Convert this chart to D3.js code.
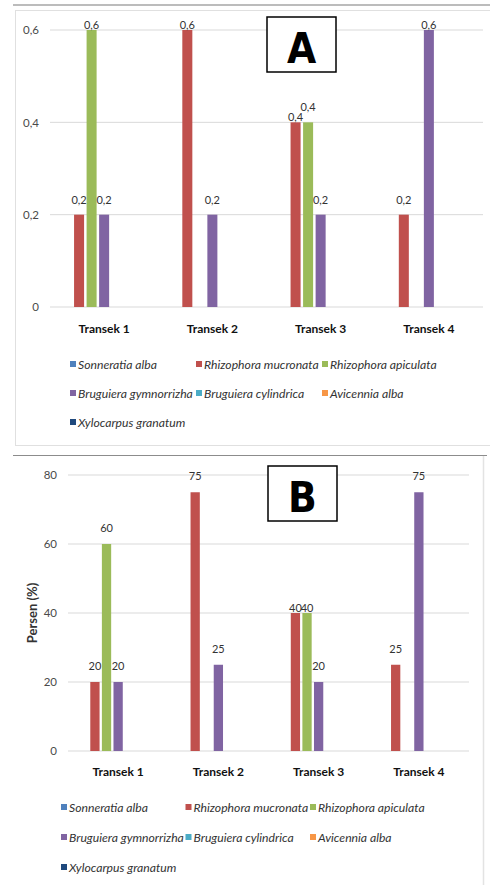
<!DOCTYPE html>
<html>
<head>
<meta charset="utf-8">
<script src="https://cdn.jsdelivr.net/npm/d3@7/dist/d3.min.js"></script>
<style>
  html, body { margin: 0; padding: 0; background: #fff; }
  svg { display: block; font-family: Lato, "Open Sans", "Liberation Sans", sans-serif; }
</style>
</head>
<body>
<svg id="chart" width="490" height="885"></svg>
<script>
// ---------- DATA ----------
const categories = ["Transek 1", "Transek 2", "Transek 3", "Transek 4"];
const species = [
  "Sonneratia alba",
  "Rhizophora mucronata",
  "Rhizophora apiculata",
  "Bruguiera gymnorrizha",
  "Bruguiera cylindrica",
  "Avicennia alba",
  "Xylocarpus granatum"
];
const speciesColors = ["#4F81BD", "#C0504D", "#9BBB59", "#8064A2", "#4BACC6", "#F79646", "#1F497D"];

// Panel A values (per species, per transect)
const valuesA = [
  [0, 0, 0, 0],
  [0.2, 0.6, 0.4, 0.2],
  [0.6, 0, 0.4, 0],
  [0.2, 0.2, 0.2, 0.6],
  [0, 0, 0, 0],
  [0, 0, 0, 0],
  [0, 0, 0, 0]
];
const ticksA = [0, 0.2, 0.4, 0.6];

// Panel B values (percent)
const valuesB = [
  [0, 0, 0, 0],
  [20, 75, 40, 25],
  [60, 0, 40, 0],
  [20, 25, 20, 75],
  [0, 0, 0, 0],
  [0, 0, 0, 0],
  [0, 0, 0, 0]
];
const ticksB = [0, 20, 40, 60, 80];

// ---------- DRAW ----------
const svg = d3.select("#chart");
const fmtComma = v => String(v).replace(".", ",");

function panel(cfg) {
  const g = svg.append("g");
  const y = d3.scaleLinear().domain(cfg.domain).range([cfg.y0, cfg.y1]);
  const x0 = d3.scaleBand().domain(categories).range([cfg.x0, cfg.x1]).paddingInner(0.19).paddingOuter(0.095);
  const x1 = d3.scaleBand().domain(d3.range(species.length)).range([0, x0.bandwidth()]).paddingInner(0.2).paddingOuter(0.1);

  // gridlines
  g.append("g").selectAll("line").data(cfg.ticks).join("line")
    .attr("x1", cfg.x0).attr("x2", cfg.x1)
    .attr("y1", d => y(d)).attr("y2", d => y(d))
    .attr("stroke", "#d9d9d9").attr("stroke-width", 1);

  // y axis labels
  const yAxis = d3.axisLeft(y).tickValues(cfg.ticks).tickSize(0).tickPadding(0).tickFormat(cfg.fmt);
  const ya = g.append("g").attr("transform", `translate(${cfg.tickX},0)`).call(yAxis);
  ya.select(".domain").remove();
  ya.selectAll("text").attr("fill", "#4a4a4a").attr("font-size", 11.5).attr("font-family", "Lato, 'Open Sans', sans-serif");

  // bars
  const data = [];
  species.forEach((s, si) => categories.forEach((c, ci) => {
    const v = cfg.values[si][ci];
    if (v > 0) data.push({ si, ci, c, v });
  }));
  g.append("g").selectAll("rect").data(data).join("rect")
    .attr("x", d => x0(d.c) + x1(d.si))
    .attr("width", x1.bandwidth())
    .attr("y", d => y(d.v))
    .attr("height", d => y(0) - y(d.v))
    .attr("fill", d => speciesColors[d.si]);

  // data labels
  g.append("g").selectAll("text").data(data).join("text")
    .attr("x", d => x0(d.c) + x1(d.si) + x1.bandwidth() / 2)
    .attr("y", d => y(d.v) - cfg.labelOffset(d))
    .attr("text-anchor", "middle")
    .attr("font-size", 11)
    .attr("fill", "#333")
    .text(d => cfg.fmt(d.v));

  // x axis category labels
  const xAxis = d3.axisBottom(x0).tickSize(0).tickPadding(0);
  const xa = g.append("g").attr("transform", `translate(0,${cfg.catY})`).call(xAxis);
  xa.select(".domain").remove();
  xa.selectAll("text").attr("font-size", 12).attr("font-weight", "bold").attr("fill", "#111")
    .attr("font-family", "Lato, 'Open Sans', sans-serif").attr("dy", 0);

  // legend
  const lg = g.append("g");
  species.forEach((s, i) => {
    const col = i % 3, row = Math.floor(i / 3);
    const lx = cfg.legX + col * cfg.legStep;
    const ly = cfg.legY + row * cfg.legRow;
    lg.append("rect").attr("x", lx).attr("y", ly - 8).attr("width", 6).attr("height", 6).attr("fill", speciesColors[i]);
    lg.append("text").attr("x", lx + 8).attr("y", ly).attr("font-size", 12.2).attr("font-style", "italic")
      .attr("fill", "#333").text(s);
  });

  // letter box
  g.append("rect").attr("x", cfg.box[0]).attr("y", cfg.box[1]).attr("width", 69).attr("height", 55)
    .attr("fill", "#fff").attr("stroke", "#000").attr("stroke-width", 1.5);
  g.append("text").attr("x", cfg.box[0] + 34.5).attr("y", cfg.box[1] + 46)
    .attr("text-anchor", "middle").attr("font-size", 42).attr("font-weight", "bold")
    .attr("font-family", "'Liberation Sans Narrow', 'DejaVu Sans Condensed', 'Liberation Sans', sans-serif")
    .attr("fill", "#000").text(cfg.letter);
  return g;
}

// frames
svg.append("line").attr("x1", 13).attr("x2", 490).attr("y1", 5).attr("y2", 5).attr("stroke", "#a6a6a6").attr("stroke-width", 1.5);
svg.append("rect").attr("x", 15.5).attr("y", 10.5).attr("width", 490).attr("height", 435).attr("fill", "none").attr("stroke", "#e0e0e0");
svg.append("line").attr("x1", 13).attr("x2", 487).attr("y1", 455.5).attr("y2", 455.5).attr("stroke", "#8c8c8c").attr("stroke-width", 1.2);
svg.append("line").attr("x1", 483.5).attr("x2", 483.5).attr("y1", 456).attr("y2", 885).attr("stroke", "#e3e3e3").attr("stroke-width", 1.5);

panel({
  letter: "A",
  values: valuesA, ticks: ticksA, domain: [0, 0.6], fmt: fmtComma,
  x0: 50, x1: 483, y0: 307, y1: 30, tickX: 39,
  catY: 333,
  legX: 70, legY: 369, legStep: 126, legRow: 29,
  box: [267, 17],
  labelOffset: d => (d.v >= 0.6 || (d.ci === 2 && d.si === 1)) ? 1 : 11
});

panel({
  letter: "B",
  values: valuesB, ticks: ticksB, domain: [0, 80], fmt: v => String(v),
  x0: 68, x1: 469, y0: 751, y1: 475, tickX: 57,
  catY: 776,
  legX: 61, legY: 812, legStep: 124.5, legRow: 30,
  box: [268, 466],
  labelOffset: d => (d.ci === 2 && (d.si === 1 || d.si === 2)) ? 1 : 12
});

// y axis title for B
svg.append("text")
  .attr("transform", "translate(37,613) rotate(-90)")
  .attr("text-anchor", "middle")
  .attr("font-size", 13).attr("font-weight", "bold").attr("fill", "#333")
  .text("Persen (%)");
</script>
</body>
</html>
